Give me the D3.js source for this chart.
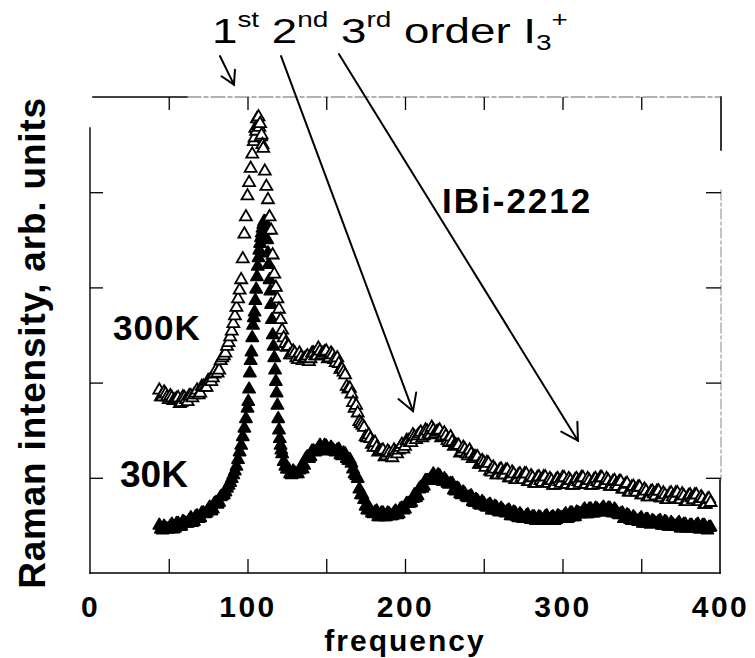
<!DOCTYPE html>
<html>
<head>
<meta charset="utf-8">
<script src="https://cdn.jsdelivr.net/npm/d3@7"></script>
<style>
  body { margin: 0; background: #fff; }
  svg { display: block; font-family: "Liberation Sans", Arial, sans-serif; }
  text { white-space: pre; }
</style>
</head>
<body>
<div id="chart"></div>
<script>
// Raman spectra (intensity in arb. units, 0..5 = frame height)
const freq = [
  44, 46, 48, 50, 52, 54, 56, 58, 60, 62, 64, 66, 68, 70, 72, 74, 76, 78, 80, 82, 84, 86,
  87, 88, 89, 90, 91, 92, 93, 94, 95, 96, 97, 98, 99,
  100, 100.5, 101, 101.5, 102, 102.5, 103, 103.5, 104, 104.5, 105, 105.5, 106, 106.5, 107, 107.5,
  108, 108.5, 109, 109.5, 110, 110.5, 111, 111.5, 112, 112.5, 113, 113.5, 114, 114.5, 115, 115.5,
  116, 116.5, 117, 117.5, 118, 118.5, 119, 119.5, 120, 120.5, 121, 121.5, 122,
  123, 124, 125,
  126, 128, 130, 132, 134, 136, 138, 140, 142, 144, 146, 148, 150, 152, 154, 156, 158, 160,
  162, 164, 166, 168, 170, 172, 174, 176, 178, 180, 182, 184, 186, 188, 190, 192, 194, 196,
  198, 200, 202, 204, 206, 208, 210, 212, 214, 216, 218, 220, 222, 224, 226, 228, 230, 232,
  234, 236, 238, 240, 242, 244, 246, 248, 250, 252, 254, 256, 258, 260, 262, 264, 266, 268,
  270, 272, 274, 276, 278, 280, 282, 284, 286, 288, 290, 292, 294, 296, 298, 300, 302, 304,
  306, 308, 310, 312, 314, 316, 318, 320, 322, 324, 326, 328, 330, 332, 334, 336, 338, 340,
  342, 344, 346, 348, 350, 352, 354, 356, 358, 360, 362, 364, 366, 368, 370, 372, 374, 376,
  378, 380, 382, 384, 386, 388, 390, 392, 394
];

// 300K, open triangles (null = no point at that step)
const int300K = [
  1.92, 1.85, 1.88, 1.82, 1.84, 1.82, 1.84, 1.79, 1.84, 1.80, 1.86, 1.87, 1.92, 1.89, 1.96, 1.95, 2.02, 2.05, 2.13, 2.13, 2.26, 2.31,
  2.38, 2.42, 2.48, 2.54, 2.62, 2.70, 2.79, 2.88, 2.97, 3.08, 3.30, 3.56, 3.74,
  3.96, null, 4.10, null, 4.25, null, 4.40, null, 4.53, 4.57, 4.67, 4.64, 4.77, 4.70, 4.79, 4.68,
  4.72, 4.58, 4.60, 4.50, 4.46, null, 4.22, null, 4.06, null, 3.92, null, 3.74, null, 3.60, null,
  3.34, null, 3.14, null, 3.00, null, 2.88, null, 2.77, null, 2.66, null, 2.55,
  2.47, 2.41, 2.37,
  2.38, 2.29, 2.31, 2.24, 2.27, 2.25, 2.28, 2.25, 2.31, 2.28, 2.33, 2.31, 2.33, 2.26, 2.29, 2.21, 2.20, 2.14,
  2.08, 1.93, 1.88, 1.73, 1.68, 1.57, 1.53, 1.42, 1.41, 1.32, 1.32, 1.28, 1.29, 1.23, 1.26, 1.21, 1.27, 1.29,
  1.35, 1.33, 1.39, 1.37, 1.43, 1.44, 1.48, 1.44, 1.49, 1.45, 1.50, 1.48, 1.50, 1.43, 1.44, 1.37, 1.38, 1.34,
  1.34, 1.27, 1.30, 1.23, 1.25, 1.22, 1.22, 1.14, 1.16, 1.16, 1.07, 1.11, 1.03, 1.08, 1.05, 1.08, 1.00, 1.06,
  0.98, 1.03, 1.00, 1.04, 0.96, 1.02, 0.94, 1.00, 0.97, 1.01, 0.94, 0.99, 0.92, 0.98, 0.96, 1.00, 0.93, 0.99,
  0.92, 0.98, 0.96, 1.00, 0.93, 0.99, 0.92, 0.98, 0.96, 1.00, 0.93, 0.99, 0.91, 0.96, 0.93, 0.96, 0.88, 0.93,
  0.85, 0.90, 0.87, 0.90, 0.82, 0.88, 0.80, 0.85, 0.83, 0.86, 0.79, 0.84, 0.77, 0.83, 0.80, 0.84, 0.77, 0.83,
  0.75, 0.81, 0.79, 0.82, 0.75, 0.80, 0.72, 0.77, 0.74
];

// 30K, filled triangles
const int30K = [
  0.50, 0.45, 0.47, 0.46, 0.51, 0.47, 0.52, 0.49, 0.53, 0.52, 0.58, 0.54, 0.60, 0.58, 0.63, 0.63, 0.69, 0.67, 0.74, 0.74, 0.81, 0.85,
  0.89, 0.92, 0.95, 0.99, 1.03, 1.07, 1.12, 1.19, 1.27, 1.34, 1.43, 1.52, 1.62,
  1.73, 1.80, 1.93, 2.10, 2.23, 2.32, 2.47, 2.60, 2.68, 2.74, 2.86, 2.98, 3.11, 3.22, 3.31, 3.39,
  3.46, 3.52, 3.57, 3.62, 3.66, 3.69, 3.69, 3.66, 3.60, 3.50, 3.36, 3.24, 3.08, 2.96, 2.82, 2.66,
  2.50, 2.38, 2.26, 2.13, 2.01, 1.89, 1.76, 1.62, 1.50, 1.41, 1.34, 1.29, 1.25,
  1.17, 1.12, 1.09,
  1.09, 1.03, 1.05, 1.04, 1.11, 1.13, 1.22, 1.22, 1.28, 1.28, 1.34, 1.30, 1.33, 1.28, 1.30, 1.27, 1.30, 1.23,
  1.25, 1.18, 1.15, 1.04, 0.99, 0.82, 0.77, 0.66, 0.66, 0.62, 0.65, 0.59, 0.63, 0.59, 0.62, 0.60, 0.65, 0.62,
  0.68, 0.67, 0.73, 0.74, 0.82, 0.81, 0.90, 0.91, 0.97, 0.98, 1.04, 0.99, 1.02, 0.96, 0.97, 0.93, 0.94, 0.86,
  0.88, 0.82, 0.83, 0.79, 0.81, 0.74, 0.76, 0.71, 0.73, 0.69, 0.72, 0.66, 0.69, 0.64, 0.66, 0.63, 0.66, 0.60,
  0.63, 0.58, 0.60, 0.57, 0.61, 0.56, 0.59, 0.55, 0.58, 0.56, 0.60, 0.55, 0.59, 0.56, 0.59, 0.58, 0.62, 0.58,
  0.63, 0.59, 0.63, 0.62, 0.67, 0.62, 0.67, 0.63, 0.67, 0.65, 0.69, 0.64, 0.68, 0.63, 0.65, 0.61, 0.63, 0.57,
  0.60, 0.55, 0.57, 0.54, 0.58, 0.52, 0.56, 0.51, 0.54, 0.52, 0.55, 0.50, 0.53, 0.49, 0.51, 0.49, 0.53, 0.47,
  0.51, 0.47, 0.50, 0.47, 0.51, 0.46, 0.50, 0.45, 0.48
];

// the in-between scan points (odd frequencies) of the same two spectra
const freqOdd = [
  45, 47, 49, 51, 53, 55, 57, 59, 61, 63, 65, 67, 69, 71, 73, 75, 77, 79, 81, 83, 85,
  127, 129, 131, 133, 135, 137, 139, 141, 143, 145, 147, 149, 151, 153, 155, 157, 159, 161,
  163, 165, 167, 169, 171, 173, 175, 177, 179, 181, 183, 185, 187, 189, 191, 193, 195, 197,
  199, 201, 203, 205, 207, 209, 211, 213, 215, 217, 219, 221, 223, 225, 227, 229, 231, 233,
  235, 237, 239, 241, 243, 245, 247, 249, 251, 253, 255, 257, 259, 261, 263, 265, 267, 269,
  271, 273, 275, 277, 279, 281, 283, 285, 287, 289, 291, 293, 295, 297, 299, 301, 303, 305,
  307, 309, 311, 313, 315, 317, 319, 321, 323, 325, 327, 329, 331, 333, 335, 337, 339, 341,
  343, 345, 347, 349, 351, 353, 355, 357, 359, 361, 363, 365, 367, 369, 371, 373, 375, 377,
  379, 381, 383, 385, 387, 389, 391, 393
];

const int300KOdd = [
  1.85, 1.90, 1.85, 1.86, 1.81, 1.83, 1.78, 1.85, 1.82, 1.86, 1.84, 1.89, 1.87, 1.96, 1.95, 2.02, 2.01, 2.09, 2.10, 2.23, 2.28,
  2.29, 2.33, 2.26, 2.31, 2.23, 2.26, 2.22, 2.31, 2.28, 2.36, 2.29, 2.32, 2.25, 2.31, 2.24, 2.26, 2.14, 2.11,
  1.96, 1.94, 1.79, 1.76, 1.59, 1.55, 1.43, 1.45, 1.35, 1.37, 1.27, 1.28, 1.22, 1.28, 1.22, 1.29, 1.25, 1.32,
  1.30, 1.39, 1.37, 1.45, 1.40, 1.46, 1.42, 1.50, 1.46, 1.53, 1.46, 1.49, 1.42, 1.47, 1.39, 1.43, 1.33, 1.34,
  1.26, 1.32, 1.25, 1.29, 1.20, 1.22, 1.14, 1.18, 1.11, 1.15, 1.06, 1.09, 1.03, 1.09, 1.03, 1.08, 1.00, 1.04,
  0.98, 1.04, 0.98, 1.04, 0.96, 1.00, 0.94, 1.01, 0.95, 1.01, 0.94, 0.97, 0.92, 0.99, 0.94, 1.00, 0.93, 0.97,
  0.92, 0.99, 0.94, 1.00, 0.93, 0.97, 0.92, 0.99, 0.94, 1.00, 0.93, 0.97, 0.91, 0.97, 0.91, 0.96, 0.88, 0.94,
  0.85, 0.91, 0.85, 0.90, 0.82, 0.86, 0.80, 0.86, 0.81, 0.86, 0.79, 0.82, 0.77, 0.84, 0.78, 0.84, 0.77, 0.81,
  0.75, 0.82, 0.77, 0.82, 0.75, 0.78, 0.72, 0.78
];

const int30KOdd = [
  0.46, 0.49, 0.46, 0.49, 0.46, 0.52, 0.49, 0.54, 0.52, 0.55, 0.53, 0.59, 0.57, 0.63, 0.62, 0.66, 0.65, 0.73, 0.72, 0.80, 0.82,
  1.04, 1.07, 1.04, 1.08, 1.09, 1.20, 1.20, 1.28, 1.27, 1.31, 1.29, 1.34, 1.29, 1.32, 1.28, 1.29, 1.24, 1.26,
  1.20, 1.19, 1.09, 1.02, 0.88, 0.82, 0.70, 0.69, 0.63, 0.64, 0.59, 0.63, 0.59, 0.63, 0.60, 0.63, 0.61, 0.67,
  0.66, 0.73, 0.73, 0.78, 0.79, 0.88, 0.89, 0.97, 0.97, 1.01, 0.99, 1.03, 0.97, 0.99, 0.94, 0.94, 0.87, 0.89,
  0.83, 0.85, 0.80, 0.80, 0.75, 0.77, 0.72, 0.75, 0.70, 0.71, 0.66, 0.70, 0.65, 0.68, 0.64, 0.65, 0.60, 0.64,
  0.59, 0.62, 0.57, 0.60, 0.57, 0.59, 0.55, 0.59, 0.55, 0.59, 0.56, 0.58, 0.55, 0.60, 0.58, 0.60, 0.57, 0.63,
  0.59, 0.64, 0.62, 0.65, 0.62, 0.67, 0.63, 0.68, 0.65, 0.67, 0.64, 0.68, 0.64, 0.67, 0.62, 0.62, 0.57, 0.61,
  0.56, 0.59, 0.55, 0.56, 0.52, 0.56, 0.52, 0.55, 0.52, 0.54, 0.50, 0.54, 0.49, 0.53, 0.49, 0.51, 0.47, 0.51,
  0.47, 0.50, 0.47, 0.50, 0.46, 0.50, 0.47, 0.48
];

const xTickValues  = [50, 100, 150, 200, 250, 300, 350];
const xLabelValues = [0, 100, 200, 300, 400];
const yTickValues  = [1, 2, 3, 4];

// annotation arrows, [fromFreq, fromInt, toFreq, toInt, headLen]
const arrows = [
  [82.5, 5.43, 91.4, 5.13, 15],
  [121.3, 5.43, 205.1, 1.70, 19],
  [158.1, 5.45, 309.8, 1.39, 19]
];

const W = 755, H = 658;
const x = d3.scaleLinear([0, 400], [90, 720]);
const y = d3.scaleLinear([0, 5], [573, 97]);

const svg = d3.select('#chart').append('svg')
  .attr('width', W).attr('height', H)
  .attr('viewBox', `0 0 ${W} ${H}`);

svg.append('rect').attr('width', W).attr('height', H).attr('fill', '#fff');

// frame (scanned: parts of top/right edges are faint)
const frame = svg.append('g').attr('stroke-linecap', 'square');
frame.append('line').attr('x1', 90).attr('x2', 720).attr('y1', 573).attr('y2', 573)
  .attr('stroke', '#000').attr('stroke-width', 1.6);
frame.append('line').attr('x1', 90).attr('x2', 90).attr('y1', 128).attr('y2', 573)
  .attr('stroke', '#000').attr('stroke-width', 1.4);
frame.append('line').attr('x1', 93).attr('x2', 187).attr('y1', 97).attr('y2', 97)
  .attr('stroke', '#000').attr('stroke-width', 1.6);
frame.append('line').attr('x1', 187).attr('x2', 720).attr('y1', 97).attr('y2', 97)
  .attr('stroke', '#666').attr('stroke-width', 1.1).attr('stroke-dasharray', '14 3 4 3');
frame.append('line').attr('x1', 721).attr('x2', 721).attr('y1', 97).attr('y2', 150)
  .attr('stroke', '#000').attr('stroke-width', 1.6);
frame.append('line').attr('x1', 721).attr('x2', 721).attr('y1', 190).attr('y2', 480)
  .attr('stroke', '#888').attr('stroke-width', 1).attr('stroke-dasharray', '10 3 3 3');
frame.append('line').attr('x1', 720).attr('x2', 720).attr('y1', 480).attr('y2', 573)
  .attr('stroke', '#000').attr('stroke-width', 1.6);

// inward ticks on all four sides
function ticks(g) {
  g.select('.domain').remove();
  g.selectAll('line').attr('stroke', '#000').attr('stroke-width', 1.3);
}
svg.append('g').attr('transform', 'translate(0,573)')
  .call(d3.axisBottom(x).tickValues(xTickValues).tickSize(-14).tickFormat('')).call(ticks);
svg.append('g').attr('transform', 'translate(0,97)')
  .call(d3.axisTop(x).tickValues(xTickValues).tickSize(-13).tickFormat('')).call(ticks);
svg.append('g').attr('transform', 'translate(90,0)')
  .call(d3.axisLeft(y).tickValues(yTickValues).tickSize(-13).tickFormat('')).call(ticks);
svg.append('g').attr('transform', 'translate(721,0)')
  .call(d3.axisRight(y).tickValues(yTickValues).tickSize(-15).tickFormat('')).call(ticks);

// x tick labels
svg.append('g').attr('transform', 'translate(0,573)')
  .call(d3.axisBottom(x).tickValues(xLabelValues).tickSize(0).tickPadding(23).tickFormat(d3.format('d')))
  .call(g => g.select('.domain').remove())
  .call(g => g.selectAll('text')
    .attr('fill', '#000')
    .attr('font-family', '"Liberation Sans", Arial, sans-serif')
    .attr('font-size', 30).attr('font-weight', 'bold')
    .attr('letter-spacing', 2.5));

// axis titles
svg.append('text')
  .attr('x', 405).attr('y', 651)
  .attr('text-anchor', 'middle')
  .attr('font-size', 30).attr('font-weight', 'bold').attr('letter-spacing', 2)
  .text('frequency');

svg.append('text')
  .attr('transform', 'translate(45,343) rotate(-90)')
  .attr('text-anchor', 'middle')
  .attr('font-size', 37).attr('font-weight', 'bold').attr('letter-spacing', 0.8)
  .text('Raman intensity, arb. units');

// data: both scan grids of a spectrum, drawn left to right
function points(fs, vs, fo, vo) {
  return fs.map((f, i) => ({ f, v: vs[i] }))
    .concat(fo.map((f, i) => ({ f, v: vo[i] })))
    .filter(d => d.v != null)
    .sort((a, b) => a.f - b.f);
}
const tri = d3.symbol(d3.symbolTriangle, 62)();
const pts30 = points(freq, int30K, freqOdd, int30KOdd);
const pts300 = points(freq, int300K, freqOdd, int300KOdd);

svg.append('g').selectAll('path').data(pts30).join('path')
  .attr('d', tri)
  .attr('transform', d => `translate(${x(d.f)},${y(d.v)})`)
  .attr('fill', '#000').attr('stroke', '#000').attr('stroke-width', 1.8)
  .attr('stroke-linejoin', 'round');

svg.append('g').selectAll('path').data(pts300).join('path')
  .attr('d', tri)
  .attr('transform', d => `translate(${x(d.f)},${y(d.v)})`)
  .attr('fill', '#fff').attr('stroke', '#000').attr('stroke-width', 1.8);

// labels in the plot
svg.append('text').attr('x', 113).attr('y', 340)
  .attr('font-size', 35).attr('font-weight', 'bold').attr('letter-spacing', 1)
  .text('300K');
svg.append('text').attr('x', 120).attr('y', 487)
  .attr('font-size', 37).attr('font-weight', 'bold')
  .text('30K');
svg.append('text').attr('x', 442).attr('y', 213)
  .attr('font-size', 35).attr('font-weight', 'bold').attr('letter-spacing', 2)
  .text('IBi-2212');

// title with super/subscripts
const title = svg.append('g').attr('transform', 'translate(212,43) scale(1.27,1)')
  .append('text').attr('font-size', 36);
const parts = [
  ['1', 36, 0], ['st', 22, -16], [' 2', 36, 16], ['nd', 22, -16], [' 3', 36, 16],
  ['rd', 22, -16], [' order I', 36, 16], ['3', 22, 7], ['+', 22, -23]
];
parts.forEach(([t, fs, dy]) => title.append('tspan').attr('font-size', fs).attr('dy', dy).text(t));

// arrows
const ag = svg.append('g').attr('stroke', '#000').attr('stroke-width', 2).attr('fill', 'none')
  .attr('stroke-linecap', 'round');
arrows.forEach(([f1, v1, f2, v2, len]) => {
  const x1 = x(f1), y1 = y(v1), x2 = x(f2), y2 = y(v2);
  const a = Math.atan2(y1 - y2, x1 - x2);
  const w1 = [x2 + len * Math.cos(a + Math.PI / 6), y2 + len * Math.sin(a + Math.PI / 6)];
  const w2 = [x2 + len * Math.cos(a - Math.PI / 6), y2 + len * Math.sin(a - Math.PI / 6)];
  ag.append('line').attr('x1', x1).attr('y1', y1).attr('x2', x2).attr('y2', y2);
  ag.append('path').attr('d', `M${w1[0]},${w1[1]}L${x2},${y2}L${w2[0]},${w2[1]}`);
});
</script>
</body>
</html>
